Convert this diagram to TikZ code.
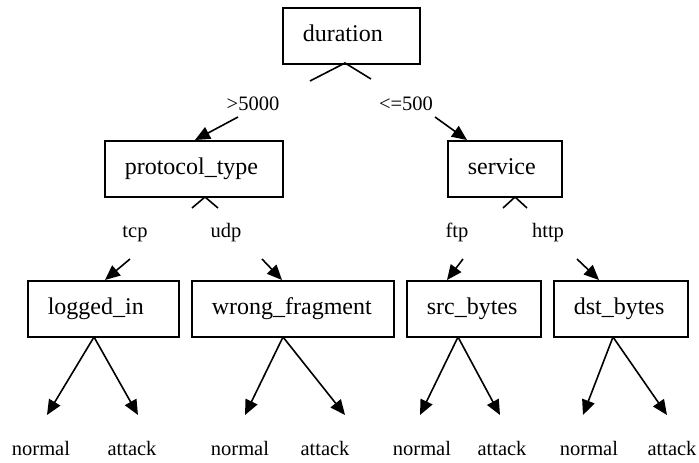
\documentclass[tikz,border=0pt]{standalone}
\usepackage{fontspec}
\setmainfont{Liberation Serif}
\usetikzlibrary{arrows.meta}
\tikzset{
  box/.style={draw, line width=1.6pt, anchor=north west, inner xsep=20pt, inner ysep=0pt,
    minimum height=56pt, align=left, text height=16pt, text depth=5pt,
    font=\fontsize{24}{28}\selectfont},
  lbl/.style={anchor=base, inner sep=0pt, font=\fontsize{20.5}{24}\selectfont},
  seg/.style={line width=1.6pt},
  arr/.style={line width=1.6pt, -{Triangle[length=15pt,width=13pt]}}
}
\begin{document}
\begin{tikzpicture}[x=1pt,y=-1pt]
\useasboundingbox (0,0) rectangle (699,463);
% boxes
\node[box, text width=97pt] (duration) at (282,7) {duration};
\node[box, text width=138pt] (proto) at (104,140) {protocol\_type};
\node[box, text width=74pt] (service) at (447,140) {service};
\node[box, text width=111pt] (logged) at (27,280) {logged\_in};
\node[box, text width=162pt] (wrong) at (191,280) {wrong\_fragment};
\node[box, text width=94pt] (src) at (406,280) {src\_bytes};
\node[box, text width=94pt] (dst) at (553,280) {dst\_bytes};
% edge labels
\node[lbl] (l5000) at (253,110) {>5000};
\node[lbl] (l500) at (406,110) {<=500};
\node[lbl] (ltcp) at (135,237) {tcp};
\node[lbl] (ludp) at (226,237) {udp};
\node[lbl] (lftp) at (457,237) {ftp};
\node[lbl] (lhttp) at (548,237) {http};
% leaves
\node[lbl] (n1) at (41,455) {normal};
\node[lbl] (a1) at (132,455) {attack};
\node[lbl] (n2) at (240,455) {normal};
\node[lbl] (a2) at (325,455) {attack};
\node[lbl] (n3) at (422,455) {normal};
\node[lbl] (a3) at (502,455) {attack};
\node[lbl] (n4) at (589,455) {normal};
\node[lbl] (a4) at (672,455) {attack};
% coordinates
\coordinate (dA) at (345,63);
\coordinate (dL) at (310,81);
\coordinate (dR) at (371,79);
\coordinate (dLs) at (238,117);
\coordinate (dRs) at (435,117);
\coordinate (pT) at (195,140);
\coordinate (sT) at (467,140);
\coordinate (pA) at (205,197);
\coordinate (pL) at (192,208);
\coordinate (pR) at (218,208);
\coordinate (pLs) at (130,259);
\coordinate (pRs) at (262,259);
\coordinate (lT) at (105,280);
\coordinate (wT) at (282,280);
\coordinate (sA) at (515,197);
\coordinate (sL) at (503,208);
\coordinate (sR) at (527,208);
\coordinate (sLs) at (463,259);
\coordinate (sRs) at (577,259);
\coordinate (srT) at (447,280);
\coordinate (dsT) at (599,280);
\coordinate (lA) at (94,337);
\coordinate (wA) at (283,337);
\coordinate (rA) at (458,337);
\coordinate (tA) at (613,337);
\coordinate (t1) at (47,415);
\coordinate (t2) at (138,415);
\coordinate (t3) at (245,415);
\coordinate (t4) at (345,415);
\coordinate (t5) at (420,415);
\coordinate (t6) at (500,415);
\coordinate (t7) at (583,415);
\coordinate (t8) at (667,415);
% edges
\draw[seg] (dL) -- (dA) -- (dR);
\draw[arr] (dLs) -- (pT);
\draw[arr] (dRs) -- (sT);
\draw[seg] (pL) -- (pA) -- (pR);
\draw[arr] (pLs) -- (lT);
\draw[arr] (pRs) -- (wT);
\draw[seg] (sL) -- (sA) -- (sR);
\draw[arr] (sLs) -- (srT);
\draw[arr] (sRs) -- (dsT);
\draw[arr] (lA) -- (t1);
\draw[arr] (lA) -- (t2);
\draw[arr] (wA) -- (t3);
\draw[arr] (wA) -- (t4);
\draw[arr] (rA) -- (t5);
\draw[arr] (rA) -- (t6);
\draw[arr] (tA) -- (t7);
\draw[arr] (tA) -- (t8);
\end{tikzpicture}
\end{document}
